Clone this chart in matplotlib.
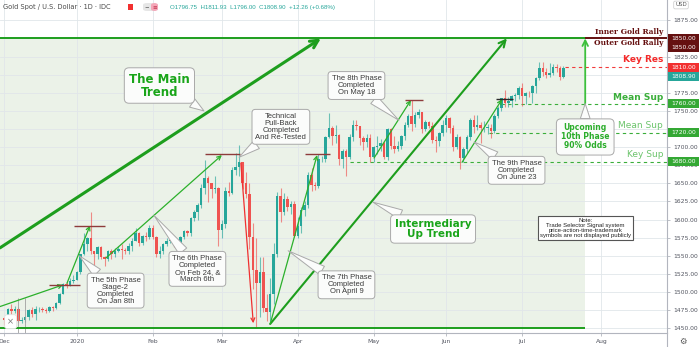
import numpy as np
import pandas as pd
import matplotlib.pyplot as plt
from matplotlib.patches import Rectangle, FancyBboxPatch
from matplotlib.transforms import blended_transform_factory

# Gold spot daily bars (open, high, low, close), 2 Dec 2019 - 17 Jul 2020
dec_2019 = [
    (1464, 1466, 1454, 1461), (1461, 1478, 1459, 1477), (1477, 1484, 1470, 1474),
    (1474, 1481, 1471, 1476), (1476, 1479, 1458, 1460), (1460, 1465, 1457, 1462),
    (1462, 1467, 1459, 1465), (1465, 1477, 1461, 1475), (1475, 1479, 1466, 1470),
    (1470, 1481, 1462, 1476), (1476, 1479, 1472, 1476), (1476, 1480, 1473, 1475),
    (1475, 1478, 1471, 1474), (1474, 1481, 1472, 1479), (1479, 1481, 1474, 1478),
    (1478, 1486, 1477, 1485), (1485, 1499, 1484, 1498), (1498, 1513, 1497, 1511),
    (1511, 1514, 1506, 1510), (1510, 1519, 1508, 1515), (1515, 1524, 1513, 1517),
]
jan_2020 = [
    (1517, 1529, 1516, 1528), (1528, 1553, 1525, 1552), (1552, 1582, 1551, 1566),
    (1566, 1576, 1557, 1574), (1574, 1611, 1553, 1556), (1556, 1557, 1536, 1552),
    (1552, 1563, 1546, 1562), (1562, 1563, 1545, 1548), (1548, 1550, 1536, 1545),
    (1545, 1558, 1543, 1557), (1557, 1559, 1546, 1552), (1552, 1561, 1549, 1557),
    (1557, 1563, 1555, 1560), (1560, 1566, 1546, 1558), (1558, 1561, 1552, 1557),
    (1557, 1567, 1553, 1563), (1563, 1574, 1557, 1571), (1571, 1588, 1570, 1582),
    (1582, 1583, 1564, 1567), (1567, 1579, 1565, 1577), (1577, 1583, 1570, 1576),
    (1576, 1592, 1573, 1589),
]
feb_2020 = [
    (1589, 1592, 1573, 1576), (1576, 1577, 1548, 1552), (1552, 1563, 1547, 1556),
    (1556, 1568, 1552, 1566), (1566, 1574, 1563, 1570), (1570, 1576, 1567, 1572),
    (1572, 1573, 1562, 1567), (1567, 1569, 1561, 1566), (1566, 1578, 1563, 1576),
    (1576, 1585, 1573, 1584), (1584, 1586, 1578, 1581), (1581, 1604, 1577, 1602),
    (1602, 1613, 1598, 1611), (1611, 1623, 1600, 1620), (1620, 1649, 1616, 1643),
    (1643, 1682, 1635, 1658), (1658, 1660, 1624, 1650), (1650, 1651, 1630, 1642),
    (1642, 1660, 1636, 1643), (1643, 1645, 1563, 1585),
]
mar_2020 = [
    (1585, 1599, 1575, 1594), (1594, 1645, 1588, 1640), (1640, 1652, 1632, 1637),
    (1637, 1673, 1635, 1669), (1669, 1692, 1662, 1673), (1673, 1703, 1660, 1680),
    (1680, 1680, 1642, 1650), (1650, 1665, 1630, 1635), (1635, 1650, 1560, 1576),
    (1576, 1595, 1504, 1530), (1530, 1575, 1451, 1512), (1512, 1549, 1465, 1527),
    (1527, 1548, 1473, 1478), (1478, 1498, 1460, 1472), (1472, 1519, 1460, 1498),
    (1498, 1568, 1483, 1553), (1553, 1638, 1548, 1632), (1632, 1643, 1597, 1611),
    (1611, 1637, 1607, 1629), (1629, 1633, 1612, 1617), (1617, 1626, 1608, 1622),
    (1622, 1626, 1576, 1577),
]
apr_2020 = [
    (1577, 1604, 1575, 1591), (1591, 1618, 1581, 1613), (1613, 1626, 1605, 1620),
    (1620, 1665, 1616, 1661), (1661, 1671, 1640, 1648), (1648, 1652, 1641, 1646),
    (1646, 1690, 1644, 1683), (1683, 1688, 1680, 1684), (1684, 1716, 1680, 1714),
    (1714, 1747, 1712, 1727), (1727, 1729, 1703, 1716), (1716, 1731, 1705, 1717),
    (1717, 1718, 1675, 1683), (1683, 1697, 1671, 1695), (1695, 1698, 1660, 1687),
    (1687, 1718, 1684, 1714), (1714, 1738, 1709, 1731), (1731, 1737, 1723, 1729),
    (1729, 1729, 1703, 1713), (1713, 1716, 1696, 1707), (1707, 1718, 1700, 1713),
    (1713, 1718, 1680, 1687),
]
may_2020 = [
    (1687, 1702, 1680, 1700), (1700, 1715, 1690, 1701), (1701, 1711, 1694, 1705),
    (1705, 1708, 1683, 1686), (1686, 1727, 1682, 1725), (1725, 1727, 1698, 1702),
    (1702, 1716, 1692, 1697), (1697, 1708, 1695, 1702), (1702, 1717, 1697, 1715),
    (1715, 1735, 1710, 1730), (1730, 1746, 1728, 1743), (1743, 1765, 1722, 1732),
    (1732, 1748, 1728, 1745), (1745, 1752, 1740, 1748), (1748, 1748, 1720, 1725),
    (1725, 1737, 1722, 1735), (1735, 1736, 1726, 1729), (1729, 1735, 1706, 1710),
    (1710, 1715, 1693, 1709), (1709, 1721, 1701, 1719), (1719, 1737, 1716, 1730),
]
jun_2020 = [
    (1730, 1745, 1721, 1740), (1740, 1742, 1720, 1727), (1727, 1730, 1694, 1700),
    (1700, 1718, 1698, 1714), (1714, 1715, 1670, 1685), (1685, 1700, 1679, 1698),
    (1698, 1717, 1692, 1714), (1714, 1740, 1710, 1738), (1738, 1745, 1720, 1728),
    (1728, 1744, 1723, 1730), (1730, 1735, 1705, 1726), (1726, 1736, 1721, 1727),
    (1727, 1732, 1718, 1727), (1727, 1732, 1712, 1722), (1722, 1746, 1720, 1743),
    (1743, 1757, 1740, 1754), (1754, 1768, 1750, 1768), (1768, 1779, 1755, 1761),
    (1761, 1769, 1755, 1763), (1763, 1772, 1755, 1771), (1771, 1775, 1763, 1772),
    (1772, 1785, 1766, 1781),
]
jul_2020 = [
    (1781, 1789, 1757, 1770), (1770, 1776, 1759, 1775), (1775, 1777, 1769, 1774),
    (1774, 1786, 1761, 1784), (1784, 1797, 1774, 1795), (1795, 1818, 1793, 1809),
    (1809, 1818, 1798, 1803), (1803, 1809, 1795, 1799), (1799, 1816, 1797, 1802),
    (1802, 1814, 1799, 1810), (1810, 1815, 1803, 1809), (1809, 1812, 1793, 1796.75),
    (1796.75, 1811.93, 1796.00, 1808.90),
]

# key levels drawn on the right
key_res = 1810.00
mean_sup_hi = 1760.00
mean_sup_lo = 1720.00
key_sup = 1680.00
rally_level = 1850.00
channel_low = 1450.00
last_close = 1808.90

month_names = ["Dec", "2020", "Feb", "Mar", "Apr", "May", "Jun", "Jul", "Aug"]
price_ticks = np.arange(1450, 1876, 25)
hidden_ticks = [1850, 1800, 1725]   # sit under the price tags

# colours
UP = "#26a69a"
DOWN = "#ef5350"
TREND = "#1d9e1d"
PHASE = "#2bb02b"
LEVEL_G = "#3aae3a"
LIGHT_G = "#6cc46c"
BROWN = "#8e3b3b"
MAROON = "#651010"
TXT = "#3a3a3a"
AXIS_TXT = "#50535e"

ohlc = np.array(dec_2019 + jan_2020 + feb_2020 + mar_2020 + apr_2020
                + may_2020 + jun_2020 + jul_2020, dtype=float)
opens, highs, lows, closes = ohlc.T

# trading calendar (weekdays, no bar on Christmas / New Year), runs past the data
holidays = pd.to_datetime(["2019-12-25", "2020-01-01"])
cal = pd.bdate_range("2019-12-02", "2020-08-31")
cal = cal[~cal.isin(holidays)]
month_starts = [i for i in range(len(cal)) if i == 0 or cal[i].month != cal[i - 1].month]

W, H, DPI = 700, 347, 100
fig = plt.figure(figsize=(W / DPI, H / DPI), dpi=DPI)
ax = fig.add_axes([0, 14 / H, 667 / W, 333 / H])
ax.set_xlim(-1.3, 192.0)
ax.set_ylim(1443.5, 1903.0)

# projected channel area
shade_end = 168.3
ax.add_patch(Rectangle((-1.3, channel_low), shade_end + 1.3, rally_level - channel_low,
                       fc="#ebf2e8", ec="none", zorder=0.2))

# grid
ax.set_axisbelow(True)
ax.set_yticks(price_ticks)
ax.set_yticklabels(["" if p in hidden_ticks else f"{p:.2f}" for p in price_ticks])
ax.set_xticks(month_starts)
ax.set_xticklabels(month_names)
ax.grid(color="#e1e6ea", lw=0.6)

for s in ["top", "left"]:
    ax.spines[s].set_visible(False)
for s in ["right", "bottom"]:
    ax.spines[s].set_color("#b2b5be")
    ax.spines[s].set_linewidth(0.8)
ax.yaxis.tick_right()
ax.tick_params(axis="both", labelsize=4.3, labelcolor=AXIS_TXT, color="#b2b5be",
               length=2.5, width=0.6, pad=2)

# candles
x = np.arange(len(closes))
col = np.where(closes >= opens, UP, DOWN)
ax.vlines(x, lows, highs, colors=col, lw=0.8, alpha=0.65, zorder=2)
body = np.maximum(np.abs(closes - opens), 0.8)
ax.bar(x, body, bottom=np.minimum(opens, closes), width=0.72, color=col, lw=0, zorder=2.1)

# channel borders
ax.hlines(rally_level, -1.3, shade_end, color=TREND, lw=1.4, zorder=3)
ax.hlines(rally_level, shade_end, 192, color=MAROON, lw=1.4, zorder=3)
ax.hlines(channel_low, -1.3, shade_end, color=TREND, lw=1.4, zorder=3)

# support / resistance levels
dash = dict(lw=0.8, linestyles=(0, (3, 3)), zorder=1.5)
ax.hlines(key_res, 162.5, 192, color="#f23b3b", **dash)
ax.hlines(mean_sup_hi, 143.8, 192, color=LEVEL_G, **dash)
ax.hlines(mean_sup_lo, 140.4, 192, color=LEVEL_G, **dash)
ax.hlines(key_sup, 100.0, 192, color=LEVEL_G, **dash)

lab = dict(ha="right", va="center", zorder=6)
ax.text(190.9, 1858.5, "Inner Gold Rally", color=MAROON, fontsize=5.4, fontweight="bold",
        family="DejaVu Serif", **lab)
ax.text(190.9, 1843.3, "Outer Gold Rally", color=MAROON, fontsize=5.4, fontweight="bold",
        family="DejaVu Serif", **lab)
ax.text(190.9, 1820.4, "Key Res", color="#f42a2a", fontsize=6.5, fontweight="bold", **lab)
ax.text(190.9, 1769.0, "Mean Sup", color=LEVEL_G, fontsize=6.5, fontweight="bold", **lab)
ax.text(190.9, 1729.6, "Mean Sup", color=LIGHT_G, fontsize=6.5, **lab)
ax.text(190.9, 1690.0, "Key Sup", color=LIGHT_G, fontsize=6.5, **lab)


def arrow(start, end, color, lw, head):
    ax.annotate("", xy=end, xytext=start, zorder=3,
                arrowprops=dict(arrowstyle="->", color=color, lw=lw, shrinkA=0, shrinkB=0,
                                mutation_scale=head))


# main trend and intermediary trend
arrow((-1.3, 1561), (91.7, 1850), TREND, 2.2, 14)
arrow((77.0, 1456), (145.6, 1850), TREND, 1.5, 12)

# phase legs with their completion marks
arrow((-1.3, 1480), (17.0, 1510), PHASE, 0.9, 7)
arrow((18.1, 1512), (24.8, 1592), PHASE, 0.9, 7)
arrow((29.4, 1547), (63.0, 1689), PHASE, 0.9, 7)
arrow((68.5, 1678), (72.1, 1457), "#f03030", 0.9, 7)
arrow((77.0, 1456), (90.6, 1689), PHASE, 0.9, 7)
arrow((107.1, 1685), (117.8, 1765), PHASE, 0.9, 7)
arrow((132.6, 1679), (144.2, 1766), PHASE, 0.9, 7)
arrow((shade_end, mean_sup_hi), (shade_end, rally_level), "#3cc03c", 1.3, 10)

marks = [(12.9, 21.9, 1510), (20.1, 29.1, 1591.6), (58.2, 68.2, 1690),
         (87.1, 94.2, 1690), (116.1, 121.3, 1765)]
for a, b, y in marks:
    ax.hlines(y, a, b, color=BROWN, lw=1.0, zorder=3)
ax.hlines(1766, 142.3, 147.5, color="#2a2a2a", lw=1.0, zorder=3)

# drawing handles in the lower-left corner
ax.vlines([4.0, 5.9], 1443.5, 1492, color="#a0a0a0", lw=0.6, zorder=2.5)
ax.text(1.8, 1459, "\u00d7", fontsize=6, color="#777777", ha="center", va="center", zorder=6,
        bbox=dict(boxstyle="round,pad=0.3", fc="white", ec="#e0e0e0", lw=0.5))


def callout(text, box_xy, tip_xy, size=5.5, color=TXT, weight="normal", pad=0.45,
            tail=0.7, relpos=(0.5, 0.5), family="Liberation Sans"):
    ax.annotate(text, xy=tip_xy, xytext=box_xy, textcoords="data", ha="center", va="center",
                fontsize=size, color=color, fontweight=weight, family=family,
                linespacing=1.0, zorder=5,
                bbox=dict(boxstyle=f"round,pad={pad}", fc="#fbfcfb", ec="#a9a9a9", lw=0.7),
                arrowprops=dict(arrowstyle=f"wedge,tail_width={tail}", fc="#fbfcfb",
                                ec="#a9a9a9", lw=0.7, shrinkA=0, shrinkB=0,
                                mutation_scale=10, relpos=relpos))


callout("The Main\nTrend", (44.9, 1785), (57.8, 1750), size=8.5, color="#19a519",
        weight="bold", pad=0.4, family="DejaVu Sans", relpos=(0.8, 0.2))
callout("The 5th Phase\nStage-2\nCompleted\nOn Jan 8th", (32.2, 1502), (21.7, 1550))
callout("The 6th Phase\nCompleted\nOn Feb 24, &\nMarch 6th", (55.9, 1532), (43.3, 1606))
callout("Technical\nPull-Back\nCompleted\nAnd Re-Tested", (80.1, 1728), (68.0, 1686))
callout("The 7th Phase\nCompleted\nOn April 9", (99.1, 1510), (82.2, 1557))
callout("The 8th Phase\nCompleted\nOn May 18", (102.0, 1785), (114.3, 1737))
callout("Intermediary\nUp Trend", (124.2, 1587), (106.8, 1624), size=7.5, color="#19a519",
        weight="bold", pad=0.4, family="DejaVu Sans")
callout("The 9th Phase\nCompleted\nOn June 23", (148.4, 1668), (136.1, 1707))
callout("Upcoming\n10th Phase\n90% Odds", (shade_end, 1714), (shade_end, 1760),
        size=5.5, color="#2aad2a", weight="bold", pad=0.6, family="DejaVu Sans")

ax.text(shade_end, 1588, "Note:\nTrade Selector Signal system\nprice-action-time-trademark\n"
        "symbols are not displayed publicly", fontsize=4.3, color="#222222", ha="center",
        va="center", linespacing=1.0, family="Liberation Sans", zorder=5,
        bbox=dict(boxstyle="square,pad=0.3", fc="white", ec="#555555", lw=0.8))

# price tags on the scale
tag_tr = blended_transform_factory(fig.transFigure, ax.transData)
tags = [(rally_level + 0.1, MAROON), (rally_level - 12.5, MAROON), (key_res, "#f23030"),
        (last_close - 11.5, UP), (mean_sup_hi, "#34a834"), (mean_sup_lo, "#34a834"),
        (key_sup, "#34a834")]
tag_text = ["1850.00", "1850.00", "1810.00", "1808.90", "1760.00", "1720.00", "1680.00"]
for (y, c), t in zip(tags, tag_text):
    ax.add_patch(Rectangle((668 / W, y - 5.8), 31 / W, 11.6, transform=tag_tr, fc=c,
                           ec="none", clip_on=False, zorder=7))
    ax.text(683.5 / W, y, t, transform=tag_tr, fontsize=4.3, color="white", ha="center",
            va="center", clip_on=False, zorder=8)

# header line
fig.text(3 / W, 1 - 7 / H, "Gold Spot / U.S. Dollar \u00b7 1D \u00b7 IDC", fontsize=4.8,
         color="#4a4a4a", va="center", family="DejaVu Sans")
fig.add_artist(Rectangle((128 / W, 1 - 10 / H), 5 / W, 6 / H, transform=fig.transFigure,
                         fc="#f23030", ec="none"))
fig.add_artist(FancyBboxPatch((143 / W, 1 - 11 / H), 14 / W, 8 / H, transform=fig.transFigure,
                              boxstyle="round,pad=0,rounding_size=0.006", fc="#e6e6e6",
                              ec="none"))
fig.add_artist(FancyBboxPatch((151 / W, 1 - 11 / H), 7 / W, 8 / H, transform=fig.transFigure,
                              boxstyle="round,pad=0,rounding_size=0.006", fc="#f4a6b8",
                              ec="none"))
fig.text(147 / W, 1 - 7 / H, "\u2212", fontsize=4, color="#555555", ha="center", va="center")
fig.text(154.5 / W, 1 - 7 / H, "\u2261", fontsize=4, color="#c0304a", ha="center", va="center")
fig.text(170 / W, 1 - 7 / H, "O1796.75  H1811.93  L1796.00  C1808.90  +12.26 (+0.68%)",
         fontsize=4.4, color=UP, va="center", family="Liberation Sans")

fig.text(681 / W, 1 - 5 / H, "USD", fontsize=4, color="#555555", ha="center", va="center",
         bbox=dict(boxstyle="round,pad=0.25", fc="white", ec="#c8c8c8", lw=0.5))
fig.add_artist(plt.Line2D([667 / W, 667 / W], [0, 14 / H], transform=fig.transFigure,
                          color="#b2b5be", lw=0.8))
fig.text(683 / W, 6 / H, "\u2699", fontsize=6, color="#555555", ha="center", va="center")

fig.savefig("out.png", dpi=DPI)
